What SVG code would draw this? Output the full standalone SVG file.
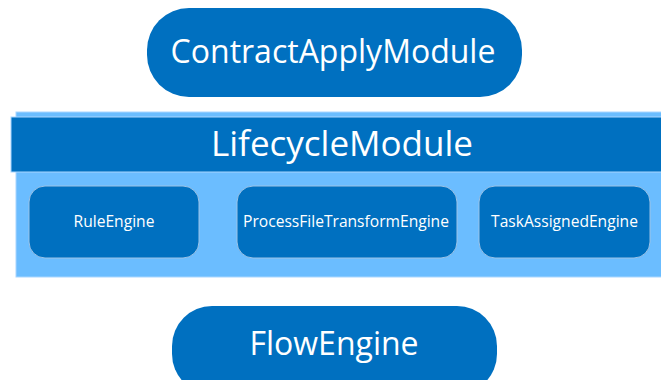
<svg xmlns="http://www.w3.org/2000/svg" width="661" height="380" viewBox="0 0 661 380">
<style>
.dark{fill:#0070C0;}
.node{fill:#0070C0;stroke:#9DC3E6;stroke-width:1;}
.t{font-family:"Open Sans","Liberation Sans",sans-serif;fill:#FFFFFF;text-anchor:middle;}
.big{font-size:32px;}
.small{font-size:15.6px;}
</style>
<rect width="661" height="380" fill="#FFFFFF"/>
<g id="ContractApplyModule">
<rect x="147" y="8" width="375" height="89" rx="42" class="dark"/>
<text x="333" y="63" class="t big">ContractApplyModule</text>
</g>
<g id="LifecycleModule">
<rect x="16" y="112" width="660" height="165" fill="#6BBDFF" stroke="#A9D6FF" stroke-width="1"/>
<rect x="11" y="117" width="660" height="55" class="dark" stroke="#A9D6FF" stroke-width="1"/>
<text x="342" y="156" class="t" font-size="35px">LifecycleModule</text>
</g>
<g id="RuleEngine">
<rect x="29" y="186" width="170" height="72" rx="16" class="node"/>
<text x="114" y="227" class="t small">RuleEngine</text>
</g>
<g id="ProcessFileTransformEngine">
<rect x="237" y="186" width="220" height="72" rx="16" class="node"/>
<text x="346" y="227" class="t small">ProcessFileTransformEngine</text>
</g>
<g id="TaskAssignedEngine">
<rect x="479" y="186" width="171" height="72" rx="16" class="node"/>
<text x="564.5" y="227" class="t small">TaskAssignedEngine</text>
</g>
<g id="FlowEngine">
<rect x="172" y="306" width="325" height="88" rx="40" class="dark"/>
<text x="334" y="355" class="t big">FlowEngine</text>
</g>
<g id="connectors"></g>
</svg>
